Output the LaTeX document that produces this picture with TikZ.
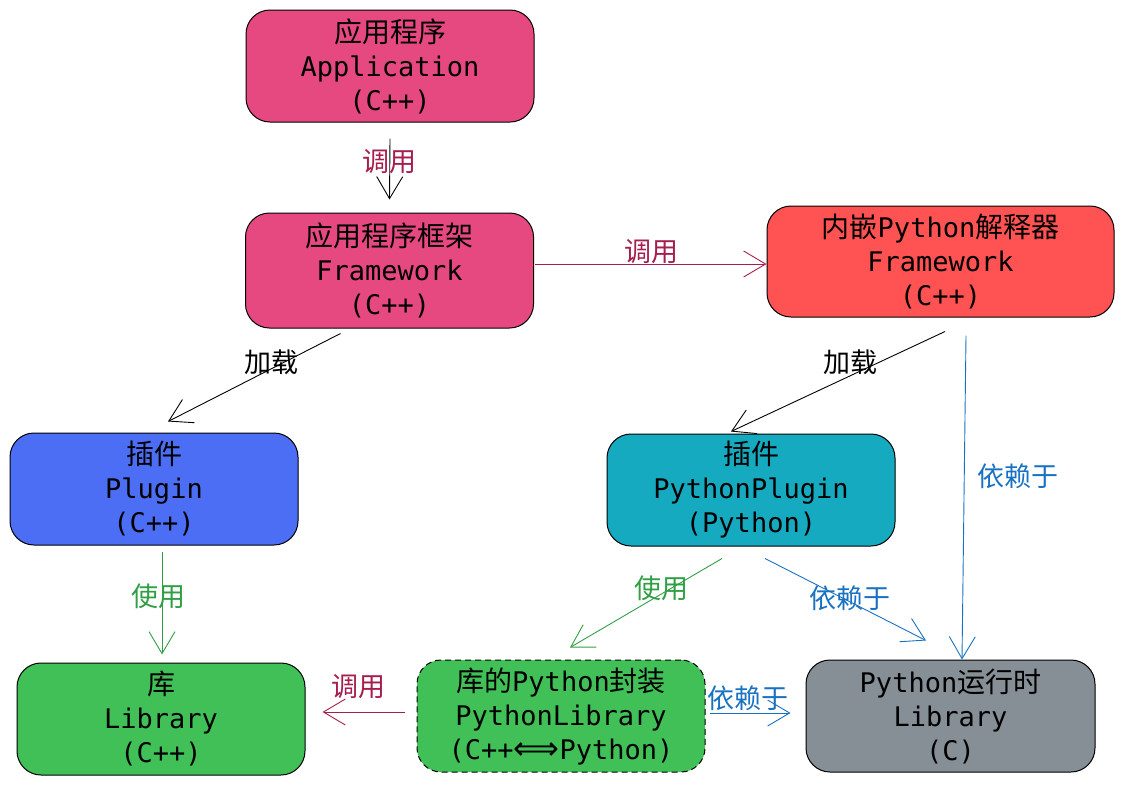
\documentclass[tikz,border=0pt]{standalone}
\usepackage{fontspec}
\setmainfont{DejaVu Sans Mono}
\newfontfamily\cjkf{Noto Sans CJK SC}
\newcommand{\cjk}{\cjkf\fontsize{28}{34}\selectfont}
\newfontfamily\dvs{DejaVu Sans}
\usetikzlibrary{arrows.meta}
\definecolor{cpink}{HTML}{E64980}
\definecolor{cred}{HTML}{FF5252}
\definecolor{cblue}{HTML}{4C6EF5}
\definecolor{cteal}{HTML}{15AABF}
\definecolor{cgreen}{HTML}{40C057}
\definecolor{cgray}{HTML}{868E96}
\definecolor{lpink}{HTML}{A61E4D}
\definecolor{lgreen}{HTML}{2F9E44}
\definecolor{lblue}{HTML}{1971C2}
\begin{document}
\begin{tikzpicture}[x=1pt,y=-1pt,
  box/.style={draw=black,line width=1pt,rounded corners=24pt,minimum width=288pt,minimum height=112pt,
    align=center,font=\fontsize{27}{34}\selectfont,inner sep=0pt},
  lbl/.style={font=\cjkf\fontsize{27}{30}\selectfont,inner sep=0pt},
  conn/.style={line width=0.9pt,-{Straight Barb[length=22pt,width=26pt,line width=0.9pt]}}]
\useasboundingbox (0,0) rectangle (1124,785);
\node[box,fill=cpink] (app) at (390,66) {{\cjk 应用程序}\\Application\\(C++)};
\node[box,fill=cpink,minimum height=115pt] (fw) at (389.5,270.5) {{\cjk 应用程序框架}\\Framework\\(C++)};
\node[box,fill=cred,minimum width=347pt,minimum height=111pt] (interp) at (940.5,261.5) {{\cjk 内嵌}Python{\cjk 解释器}\\Framework\\(C++)};
\node[box,fill=cblue] (plugin) at (154,489) {{\cjk 插件}\\Plugin\\(C++)};
\node[box,fill=cteal] (pyplug) at (751,490) {{\cjk 插件}\\PythonPlugin\\(Python)};
\node[box,fill=cgreen] (lib) at (161,719) {{\cjk 库}\\Library\\(C++)};
\node[box,fill=cgreen,dashed,dash pattern=on 6pt off 4pt] (pylib) at (561,716) {{\cjk 库的}Python{\cjk 封装}\\PythonLibrary\\(C++{\dvs\fontsize{32}{34}\selectfont ⟺}Python)};
\node[box,fill=cgray,minimum width=289pt] (rt) at (950.5,716) {Python{\cjk 运行时}\\Library\\(C)};

\draw[conn,black] ([yshift=-16]app.south) -- ([yshift=13]fw.north);
\node[lbl,text=lpink] (l1) at (389,162) {调用};
\draw[conn,lpink] ([xshift=1]fw.east |- 0,264) -- (interp.west |- 0,264);
\node[lbl,text=lpink] (l2) at (651,252) {调用};
\draw[conn,black] ([xshift=-49,yshift=-5]fw.south) -- ([xshift=14,yshift=11]plugin.north);
\node[lbl,text=black] (l3) at (271,362) {加载};
\draw[conn,black] ([xshift=4.5,yshift=-14]interp.south) -- ([xshift=-20,yshift=2]pyplug.north);
\node[lbl,text=black] (l4) at (850,362) {加载};
\draw[conn,lblue] ([xshift=25.5,yshift=-18]interp.south) -- ([xshift=11.5]rt.north);
\node[lbl,text=lblue] (l5) at (1018,476) {依赖于};
\draw[conn,lgreen] ([xshift=8,yshift=-6]plugin.south) -- ([xshift=1,yshift=8]lib.north);
\node[lbl,text=lgreen] (l6) at (158,596) {使用};
\draw[conn,lgreen] ([xshift=-29,yshift=-12]pyplug.south) -- ([xshift=9,yshift=12]pylib.north);
\node[lbl,text=lgreen] (l7) at (661,588) {使用};
\draw[conn,lblue] ([xshift=14,yshift=-12]pyplug.south) -- ([xshift=-24.5,yshift=19]rt.north);
\node[lbl,text=lblue] (l8) at (850,598) {依赖于};
\draw[conn,lpink] ([xshift=-12]pylib.west |- 0,712) -- ([xshift=17]lib.east |- 0,712);
\node[lbl,text=lpink] (l9) at (358,687) {调用};
\draw[conn,lblue] ([xshift=4]pylib.east |- 0,713) -- ([xshift=-15]rt.west |- 0,713);
\node[lbl,text=lblue] (l10) at (748,698) {依赖于};
\end{tikzpicture}
\end{document}
